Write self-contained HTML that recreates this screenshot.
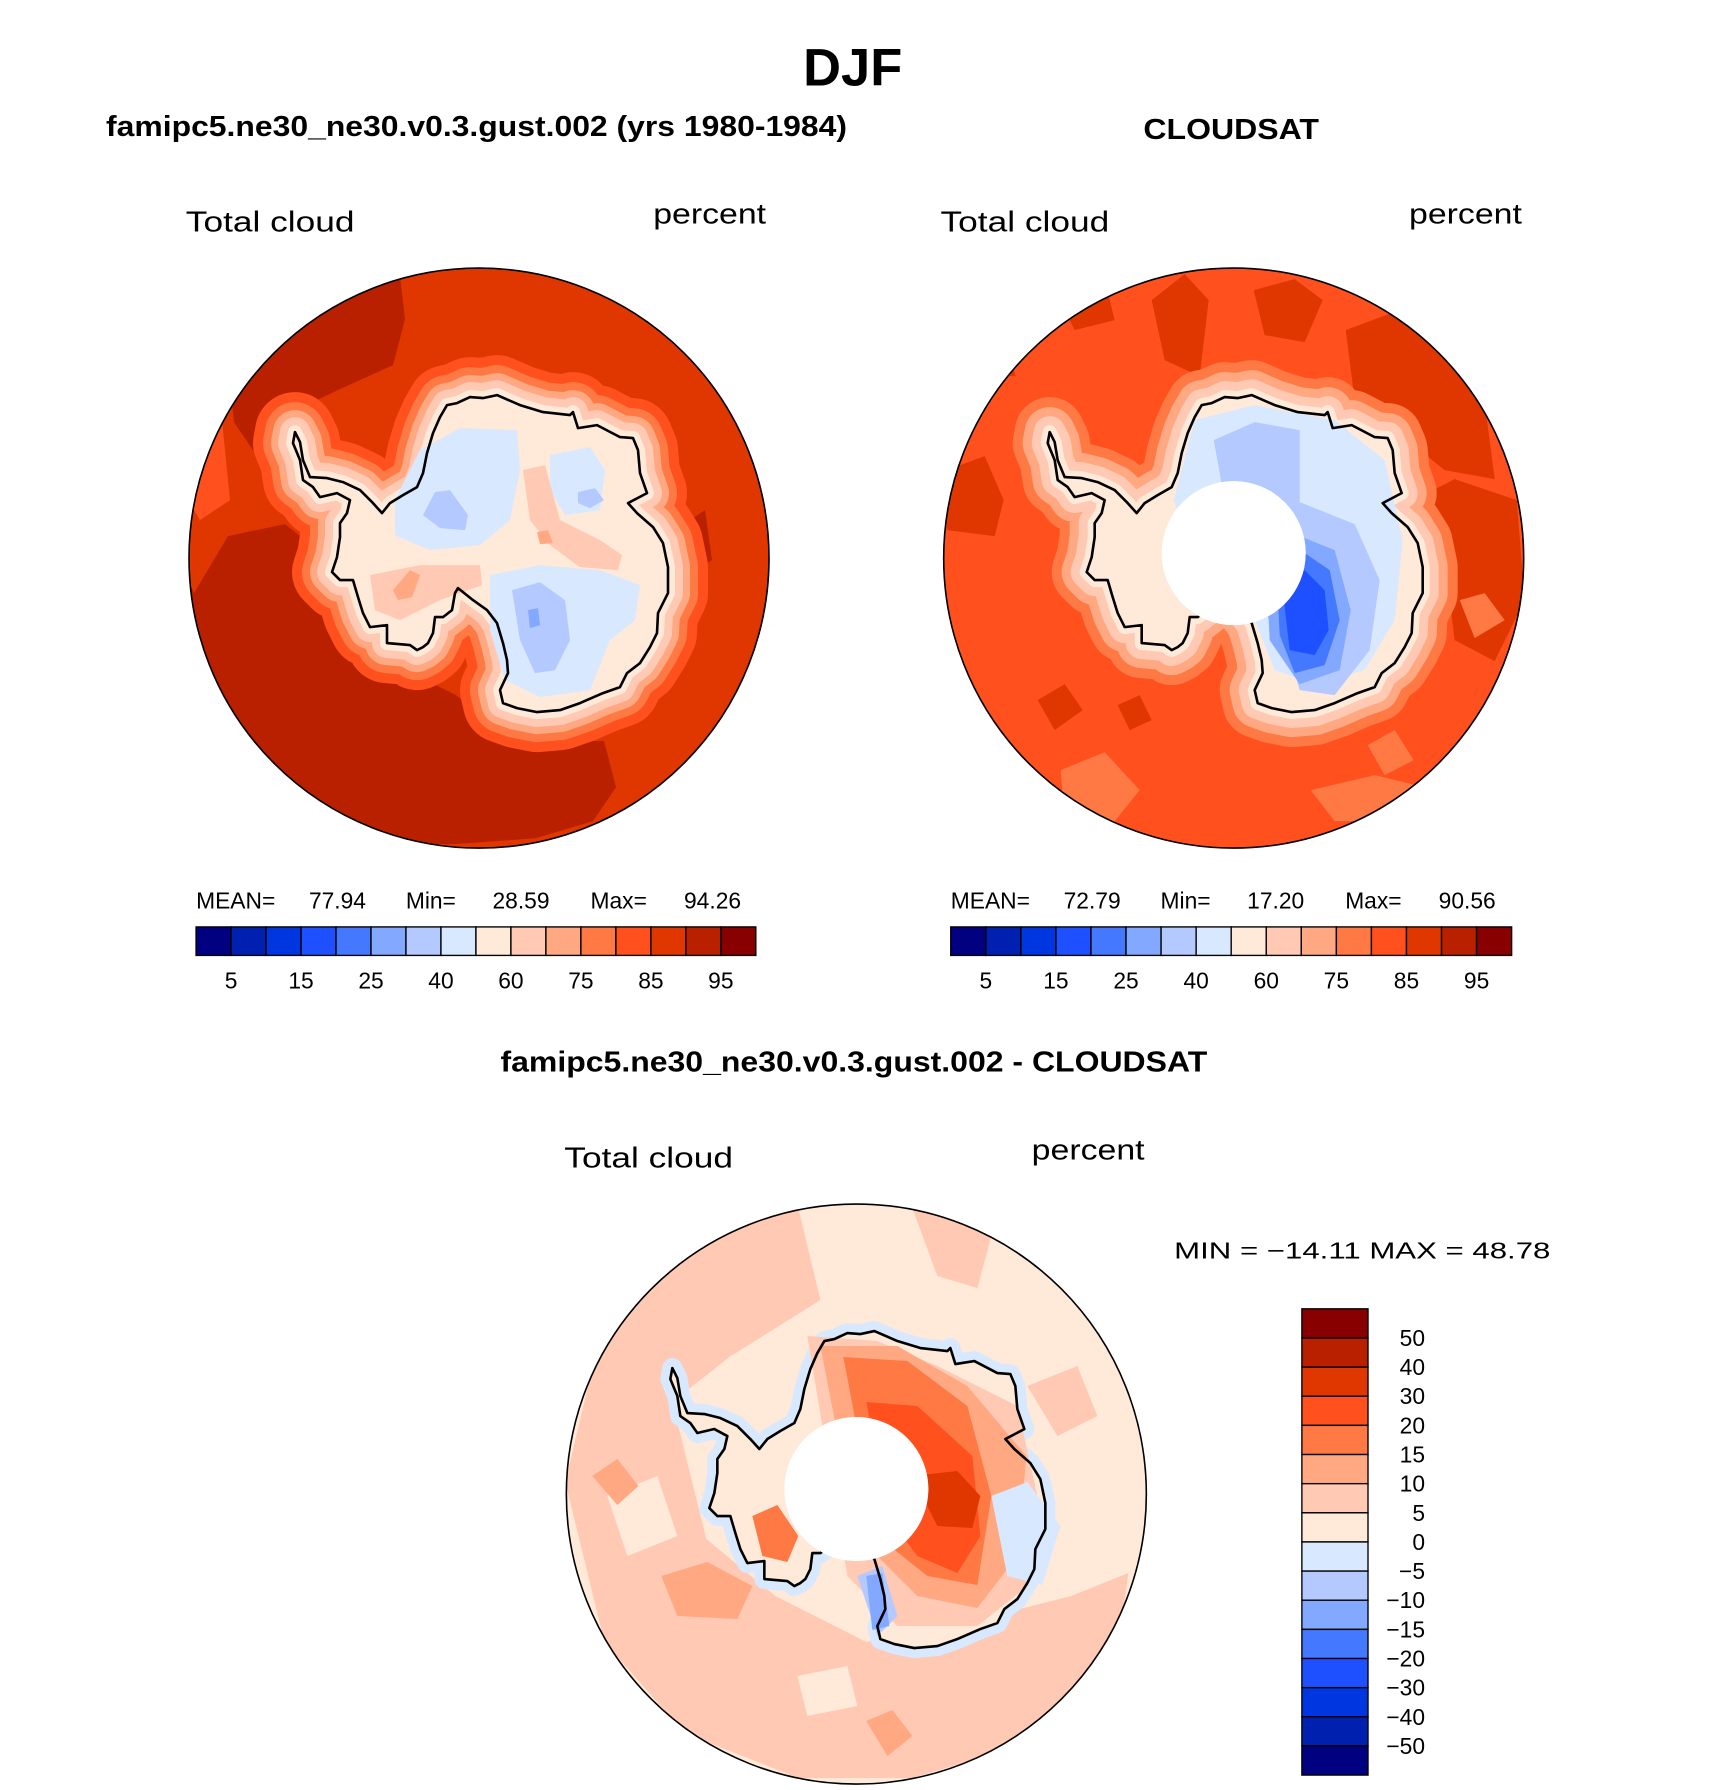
<!DOCTYPE html>
<html><head><meta charset="utf-8"><style>
html,body{margin:0;padding:0;background:#fff;}
svg{display:block;}
text{font-family:"Liberation Sans",sans-serif;fill:#000;}
</style></head><body>
<svg id="fig" width="1710" height="1790" viewBox="0 0 1500 1570">
<defs>
<clipPath id="disc"><circle cx="479" cy="558" r="290"/></clipPath>
<path id="coast" d="M447,405 L457,403 L470,397 L483,398 L497,395 L520,405 L543,412 L570,415 L573,412 L578,428 L597,425 L620,437 L633,438 L638,450 L640,473 L647,493 L628,503 L637,513 L653,527 L663,543 L668,567 L668,593 L658,613 L657,633 L650,647 L640,663 L627,673 L620,687 L603,693 L580,703 L560,710 L537,712 L517,708 L503,703 L500,690 L508,673 L507,660 L503,643 L497,623 L487,610 L473,600 L458,588 L455,593 L452,610 L443,617 L435,617 L433,633 L428,643 L423,647 L417,650 L410,645 L387,643 L387,625 L370,627 L363,613 L358,597 L353,580 L340,580 L332,572 L337,557 L340,537 L340,523 L347,513 L350,500 L337,493 L320,497 L313,487 L303,480 L300,460 L293,443 L295,432 L300,442 L303,460 L310,477 L327,478 L343,482 L360,490 L373,503 L382,513 L390,503 L403,495 L417,487 L423,473 L427,453 L433,433 L440,417 Z"/>
</defs>

<text x="748" y="75" font-size="46" font-weight="bold" text-anchor="middle">DJF</text>
<text x="93" y="119" font-size="25" font-weight="bold" textLength="650" lengthAdjust="spacingAndGlyphs">famipc5.ne30_ne30.v0.3.gust.002 (yrs 1980-1984)</text>
<text x="1003" y="122" font-size="25" font-weight="bold" textLength="154" lengthAdjust="spacingAndGlyphs">CLOUDSAT</text>
<text x="163" y="203" font-size="25" textLength="148" lengthAdjust="spacingAndGlyphs">Total cloud</text>
<text x="573" y="196" font-size="25" textLength="99" lengthAdjust="spacingAndGlyphs">percent</text>
<text x="825" y="203" font-size="25" textLength="148" lengthAdjust="spacingAndGlyphs">Total cloud</text>
<text x="1236" y="196" font-size="25" textLength="99" lengthAdjust="spacingAndGlyphs">percent</text>

<!-- Panel 1: model -->
<g transform="translate(0,0) scale(0.8772)">
<g clip-path="url(#disc)">
<circle cx="479" cy="558" r="290" fill="#e03600"/>
<polygon fill="#b82000" points="228,365 274,296 342,274 399,268 405,319 393,365 342,388 296,410 279,445 257,456 234,422"/>
<polygon fill="#b82000" points="180,560 194,593 228,536 285,524 314,547 342,616 388,661 456,695 513,741 604,741 616,787 593,821 536,838 456,844 342,844 251,798 205,707 180,650"/>
<polygon fill="#ff501e" points="188,440 222,420 230,500 200,520 188,500"/>
<polygon fill="#b82000" points="690,520 705,510 712,560 695,570"/>
<use href="#coast" fill="#ff501e" stroke="#ff501e" stroke-width="80" stroke-linejoin="round"/>
<use href="#coast" fill="#ff7944" stroke="#ff7944" stroke-width="60" stroke-linejoin="round"/>
<use href="#coast" fill="#ffa882" stroke="#ffa882" stroke-width="44" stroke-linejoin="round"/>
<use href="#coast" fill="#ffc9b3" stroke="#ffc9b3" stroke-width="30" stroke-linejoin="round"/>
<use href="#coast" fill="#ffe9d8" stroke="#ffe9d8" stroke-width="14" stroke-linejoin="round"/>
<polygon fill="#d8e9ff" points="395,500 420,450 460,428 517,430 520,470 510,520 480,545 430,550 395,535"/>
<polygon fill="#d8e9ff" points="550,455 590,447 605,470 600,510 565,515 550,490"/>
<polygon fill="#d8e9ff" points="490,575 540,565 600,570 640,585 635,620 610,640 590,690 540,697 505,680 490,630"/>
<polygon fill="#b3c9ff" points="423,515 435,492 450,490 468,515 465,530 440,528"/>
<polygon fill="#b3c9ff" points="578,492 595,488 604,500 590,508 578,503"/>
<polygon fill="#b3c9ff" points="512,590 540,582 565,600 570,640 555,670 535,673 520,640"/>
<polygon fill="#82a8ff" points="528,610 538,608 540,625 530,628"/>
<polygon fill="#ffc9b3" points="523,470 545,465 560,520 600,540 622,555 618,570 580,567 550,545 530,520"/>
<polygon fill="#ffc9b3" points="370,575 420,565 480,565 482,585 440,600 400,620 375,610"/>
<polygon fill="#ffa882" points="393,590 410,570 420,575 412,597 398,600"/>
<polygon fill="#ffa882" points="537,532 548,530 553,543 540,544"/>
</g>
<use href="#coast" fill="none" stroke="#000" stroke-width="2.6" stroke-linejoin="round"/>
<circle cx="479" cy="558" r="290" fill="none" stroke="#000" stroke-width="1.6"/>
</g>

<!-- Panel 2: CloudSat -->
<g transform="translate(662,0) scale(0.8772)">
<g clip-path="url(#disc)">
<circle cx="479" cy="558" r="290" fill="#ff501e"/>
<polygon fill="#e03600" points="397,300 430,274 454,300 445,376 410,360"/>
<polygon fill="#e03600" points="499,290 540,279 568,300 550,342 510,335"/>
<polygon fill="#e03600" points="591,330 650,308 727,380 740,479 690,470 640,430 600,400"/>
<polygon fill="#e03600" points="659,500 700,479 762,500 770,600 740,661 700,640 690,560"/>
<polygon fill="#e03600" points="192,470 230,456 249,500 240,536 192,530"/>
<polygon fill="#e03600" points="283,700 310,684 328,710 300,730"/>
<polygon fill="#e03600" points="363,705 385,695 397,720 375,730"/>
<polygon fill="#e03600" points="215,350 250,342 261,376 230,376"/>
<polygon fill="#e03600" points="300,290 350,280 360,320 320,330"/>
<polygon fill="#ff7944" points="306,770 350,752 385,790 360,821 310,821"/>
<polygon fill="#ff7944" points="556,790 620,775 682,790 660,821 580,821"/>
<polygon fill="#ff7944" points="705,600 730,593 750,620 720,638"/>
<polygon fill="#ff7944" points="613,745 640,730 659,760 630,775"/>
<use href="#coast" fill="#ff7944" stroke="#ff7944" stroke-width="70" stroke-linejoin="round"/>
<use href="#coast" fill="#ffa882" stroke="#ffa882" stroke-width="50" stroke-linejoin="round"/>
<use href="#coast" fill="#ffc9b3" stroke="#ffc9b3" stroke-width="32" stroke-linejoin="round"/>
<use href="#coast" fill="#ffe9d8" stroke="#ffe9d8" stroke-width="14" stroke-linejoin="round"/>
<polygon fill="#d8e9ff" points="440,420 500,405 580,420 630,460 648,540 640,620 610,670 560,684 520,670 500,620 440,560 419,500"/>
<polygon fill="#b3c9ff" points="459,440 500,422 545,430 545,502 600,524 625,580 615,650 580,695 545,690 530,640 500,600 470,500"/>
<polygon fill="#82a8ff" points="511,560 545,536 580,550 596,610 585,670 545,684 515,640"/>
<polygon fill="#4479ff" points="522,575 550,553 575,570 585,620 570,665 540,673 525,635"/>
<polygon fill="#1e50ff" points="528,590 550,570 570,590 574,630 560,655 535,650"/>
<circle cx="479" cy="553" r="72" fill="#fff"/>
</g>
<use href="#coast" fill="none" stroke="#000" stroke-width="2.6" stroke-linejoin="round"/>
<circle cx="479" cy="553" r="72" fill="#fff"/>
<circle cx="479" cy="558" r="290" fill="none" stroke="#000" stroke-width="1.6"/>
</g>

<!-- stats -->
<g font-size="20">
<text x="172" y="797">MEAN=</text><text x="271" y="797">77.94</text><text x="356" y="797">Min=</text><text x="432" y="797">28.59</text><text x="518" y="797">Max=</text><text x="600" y="797">94.26</text>
</g>
<g font-size="20">
<text x="834" y="797">MEAN=</text><text x="933" y="797">72.79</text><text x="1018" y="797">Min=</text><text x="1094" y="797">17.20</text><text x="1180" y="797">Max=</text><text x="1262" y="797">90.56</text>
</g>
<g id="cb1"></g>
<g id="cb2"></g>

<text x="439" y="940" font-size="25" font-weight="bold" textLength="620" lengthAdjust="spacingAndGlyphs">famipc5.ne30_ne30.v0.3.gust.002 - CLOUDSAT</text>
<text x="495" y="1024" font-size="25" textLength="148" lengthAdjust="spacingAndGlyphs">Total cloud</text>
<text x="905" y="1017" font-size="25" textLength="99" lengthAdjust="spacingAndGlyphs">percent</text>
<text x="1030" y="1104" font-size="20" textLength="330" lengthAdjust="spacingAndGlyphs">MIN = −14.11 MAX =  48.78</text>

<!-- Panel 3: difference -->
<g transform="translate(331,821) scale(0.8772)">
<g clip-path="url(#disc)">
<circle cx="479" cy="558" r="290" fill="#ffe9d8"/>
<polygon fill="#ffc9b3" points="188,546 215,432 272,341 352,284 421,272 443,364 352,421 295,466 329,603 398,660 489,706 603,683 694,660 751,637 740,717 649,808 535,842 421,842 307,797 227,706"/>
<polygon fill="#ffc9b3" points="535,272 580,268 614,300 600,352 560,340"/>
<polygon fill="#ffc9b3" points="650,450 700,430 720,480 680,500"/>
<polygon fill="#ffe9d8" points="230,560 280,540 300,600 250,620"/>
<polygon fill="#ffe9d8" points="420,740 470,730 480,770 430,780"/>
<polygon fill="#ffa882" points="284,640 330,626 375,650 360,683 300,680"/>
<polygon fill="#ffa882" points="215,540 240,523 261,550 240,569"/>
<polygon fill="#ffa882" points="489,785 515,774 535,800 510,820"/>
<polygon fill="#ffa882" points="603,480 630,466 649,490 620,500"/>
<use href="#coast" fill="#d8e9ff" stroke="#d8e9ff" stroke-width="20" stroke-linejoin="round"/>
<use href="#coast" fill="#ffe9d8" stroke="#ffe9d8" stroke-width="2"/>
<polygon fill="#ffc9b3" points="430,400 500,405 560,430 640,470 660,560 650,650 600,690 520,690 470,640"/>
<polygon fill="#ffa882" points="443,410 520,410 590,450 649,520 640,620 600,672 540,660 480,600"/>
<polygon fill="#ff7944" points="466,421 530,425 590,470 614,560 600,649 550,640 500,600"/>
<polygon fill="#ff501e" points="489,466 540,470 595,520 603,600 580,637 540,620 510,580"/>
<polygon fill="#e03600" points="535,540 580,535 603,560 595,592 560,590"/>
<polygon fill="#ff7944" points="375,580 400,569 421,600 410,626 385,620"/>
<polygon fill="#d8e9ff" points="614,560 650,546 683,590 665,649 630,640"/>
<polygon fill="#b3c9ff" points="480,640 505,630 520,680 500,700"/>
<polygon fill="#82a8ff" points="489,640 505,637 512,690 495,694"/>
<circle cx="479" cy="553" r="72" fill="#fff"/>
</g>
<use href="#coast" fill="none" stroke="#000" stroke-width="2.6" stroke-linejoin="round"/>
<circle cx="479" cy="553" r="72" fill="#fff"/>
<circle cx="479" cy="558" r="290" fill="none" stroke="#000" stroke-width="1.6"/>
</g>
<g id="cb3"></g>
</svg>
<script>
const levelColors = ["#000080","#0020b0","#0036e0","#1e50ff","#4479ff","#82a8ff","#b3c9ff","#d8e9ff","#ffe9d8","#ffc9b3","#ffa882","#ff7944","#ff501e","#e03600","#b82000","#880000"];
const horizLabels = ["5","15","25","40","60","75","85","95"];
const diffLabels = ["50","40","30","20","15","10","5","0","−5","−10","−15","−20","−30","−40","−50"];
const NS="http://www.w3.org/2000/svg";
function hbar(id,x0,y0,w,h){
  const g=document.getElementById(id);
  const bw=w/levelColors.length;
  levelColors.forEach((c,i)=>{
    const r=document.createElementNS(NS,'rect');
    r.setAttribute('x',x0+i*bw);r.setAttribute('y',y0);r.setAttribute('width',bw);r.setAttribute('height',h);
    r.setAttribute('fill',c);r.setAttribute('stroke','#000');r.setAttribute('stroke-width','1.2');
    
    
    g.appendChild(r);
  });
  horizLabels.forEach((t,i)=>{
    const tx=document.createElementNS(NS,'text');
    tx.setAttribute('x',x0+(2*i+1)*bw);tx.setAttribute('y',y0+h+29);
    tx.setAttribute('font-size','20');tx.setAttribute('text-anchor','middle');
    tx.textContent=t;
    
    
    g.appendChild(tx);
  });
}
hbar('cb1',172,813,491,25);
hbar('cb2',834,813,492,25);
(function(){
  const g=document.getElementById('cb3');
  const x0=1142,y0=1148,w=58,h=409,n=levelColors.length,bh=h/n;
  for(let i=0;i<n;i++){
    const r=document.createElementNS(NS,'rect');
    r.setAttribute('x',x0);r.setAttribute('y',y0+i*bh);r.setAttribute('width',w);r.setAttribute('height',bh);
    r.setAttribute('fill',levelColors[n-1-i]);r.setAttribute('stroke','#000');r.setAttribute('stroke-width','1.2');
    
    
    g.appendChild(r);
  }
  diffLabels.forEach((t,i)=>{
    const tx=document.createElementNS(NS,'text');
    tx.setAttribute('x',1250);tx.setAttribute('y',y0+(i+1)*bh+7);
    tx.setAttribute('font-size','20');tx.setAttribute('text-anchor','end');
    tx.textContent=t;
    
    
    g.appendChild(tx);
  });
})();
</script>
</body></html>
